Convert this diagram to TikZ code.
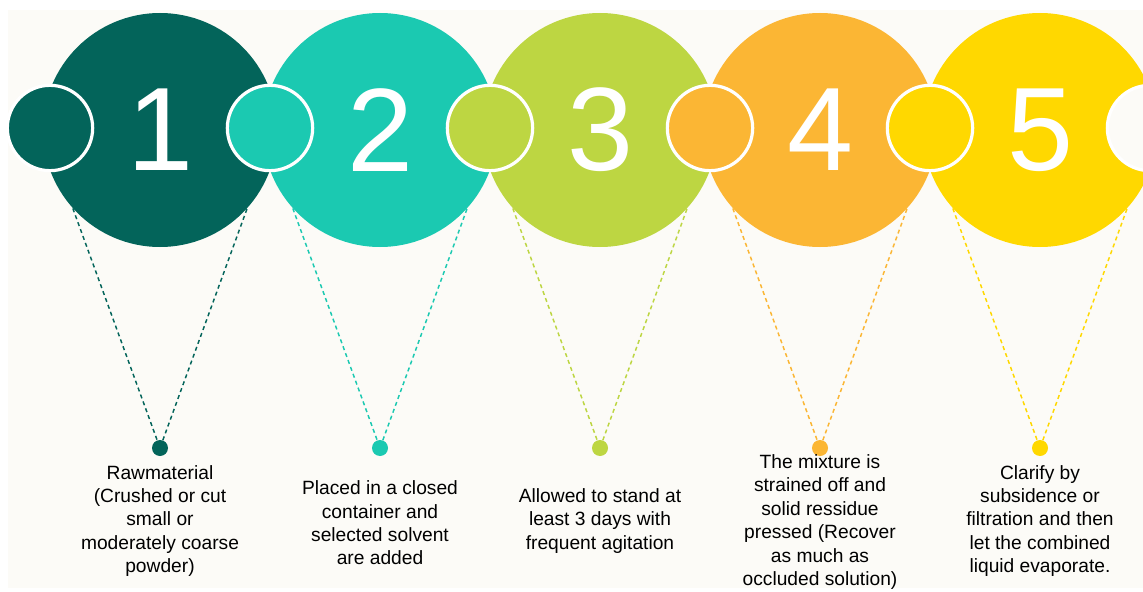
\documentclass[tikz,border=0pt]{standalone}
\usepackage{fontspec}
\setmainfont{Liberation Sans}
\definecolor{cA}{HTML}{03645A}
\definecolor{cB}{HTML}{1BC9B1}
\definecolor{cC}{HTML}{BDD642}
\definecolor{cD}{HTML}{FBB634}
\definecolor{cE}{HTML}{FFD800}
\definecolor{bgc}{HTML}{FCFBF7}
\pgfdeclarelayer{back}
\pgfdeclarelayer{lines}
\pgfsetlayers{back,lines,main}
\begin{document}
\begin{tikzpicture}[x=0.75pt,y=-0.75pt,
 bigc/.style={circle,minimum size=175.5pt,inner sep=0pt,text=white,font=\fontsize{89}{89}\selectfont},
 smallc/.style={circle,draw=white,line width=2.4pt,minimum size=64pt,inner sep=0pt},
 dotc/.style={circle,minimum size=12pt,inner sep=0pt},
 link/.style={dash pattern=on 3pt off 2.5pt,line width=1.1pt},
 desc/.style={align=center,font=\fontsize{14.4}{17.55}\selectfont,text=black,inner sep=0pt}]
\useasboundingbox (0,0) rectangle (1143,592);
\begin{pgfonlayer}{back}
\fill[white] (0,0) rectangle (1143,592);
\fill[bgc] (8,10) rectangle (1143,588);
\end{pgfonlayer}
% big circles
\node[bigc,fill=cA] (c1) at (160,130) {1};
\node[bigc,fill=cB] (c2) at (380,130) {2};
\node[bigc,fill=cC] (c3) at (600,130) {3};
\node[bigc,fill=cD] (c4) at (820,130) {4};
\node[bigc,fill=cE] (c5) at (1040,130) {5};
% small circles
\node[smallc,fill=cA] (s1) at (50,128) {};
\node[smallc,fill=cB] (s2) at (270,128) {};
\node[smallc,fill=cC] (s3) at (490,128) {};
\node[smallc,fill=cD] (s4) at (710,128) {};
\node[smallc,fill=cE] (s5) at (930,128) {};
\node[smallc,fill=bgc] (s6) at (1150,128) {};
% dots
\node[dotc,fill=cA] (d1) at (160,448) {};
\node[dotc,fill=cB] (d2) at (380,448) {};
\node[dotc,fill=cC] (d3) at (600,448) {};
\node[dotc,fill=cD] (d4) at (820,448) {};
\node[dotc,fill=cE] (d5) at (1040,448) {};
% dashed lines
\begin{pgfonlayer}{lines}
\draw[link,cA] (c1.222) -- (d1) -- (c1.318);
\draw[link,cB] (c2.222) -- (d2) -- (c2.318);
\draw[link,cC] (c3.222) -- (d3) -- (c3.318);
\draw[link,cD] (c4.222) -- (d4) -- (c4.318);
\draw[link,cE] (c5.222) -- (d5) -- (c5.318);
\end{pgfonlayer}
% texts
\node[desc] (t1) at (160,521) {Rawmaterial\\(Crushed or cut\\small or\\moderately coarse\\powder)};
\node[desc] (t2) at (380,523) {Placed in a closed\\container and\\selected solvent\\are added};
\node[desc] (t3) at (600,521) {Allowed to stand at\\least 3 days with\\frequent agitation};
\node[desc] (t4) at (820,522) {The mixture is\\strained off and\\solid ressidue\\pressed (Recover\\as much as\\occluded solution)};
\node[desc] (t5) at (1040,521) {Clarify by\\subsidence or\\filtration and then\\let the combined\\liquid evaporate.};
\end{tikzpicture}
\end{document}
